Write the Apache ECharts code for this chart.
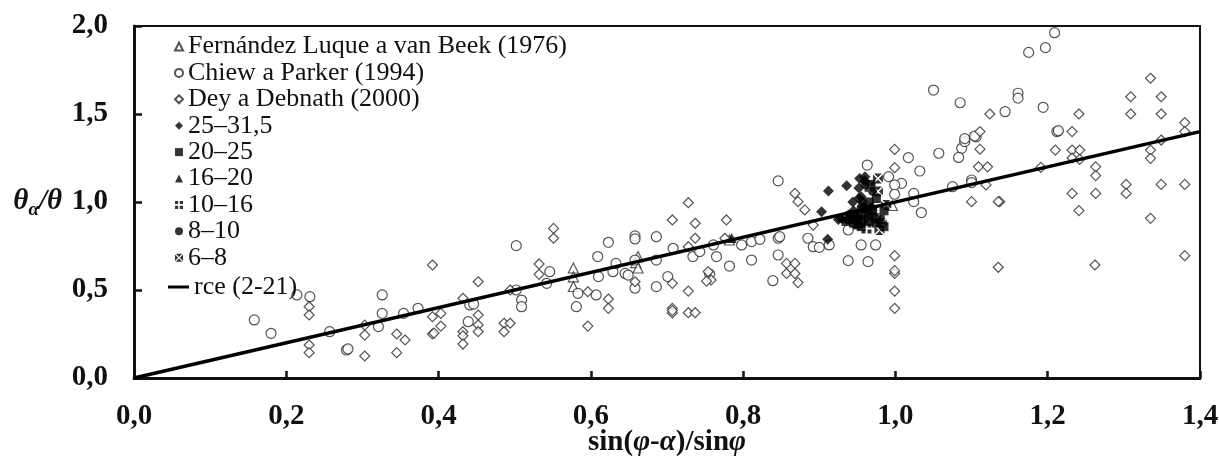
<!DOCTYPE html>
<html><head><meta charset="utf-8">
<script src="https://cdn.jsdelivr.net/npm/echarts@6/dist/echarts.min.js"></script>
<style>html,body{margin:0;padding:0;background:#fff}#c{width:1219px;height:458px}</style>
</head><body><div id="c"></div>
<script>
var seriesNames = ['Fernández Luque a van Beek (1976)','Chiew a Parker (1994)','Dey a Debnath (2000)','25–31,5','20–25','16–20','10–16','8–10','6–8','rce (2-21)'];
var xTicks = [0,0.2,0.4,0.6,0.8,1.0,1.2,1.4];
var yTicks = [0,0.5,1.0,1.5,2.0];

var fernandez = [[0.577,0.625],[0.577,0.575],[0.577,0.52],[0.662,0.69],[0.659,0.655],[0.662,0.625],[0.782,0.784],[0.996,0.98],[0.955,0.9]];
var chiew = [[0.158,0.33],[0.18,0.254],[0.214,0.472],[0.231,0.462],[0.257,0.263],[0.279,0.159],[0.281,0.165],[0.326,0.472],[0.326,0.367],[0.321,0.292],[0.354,0.367],[0.373,0.396],[0.441,0.415],[0.446,0.42],[0.439,0.32],[0.502,0.752],[0.502,0.5],[0.509,0.443],[0.509,0.405],[0.546,0.604],[0.542,0.538],[0.581,0.405],[0.583,0.481],[0.607,0.472],[0.61,0.576],[0.609,0.69],[0.623,0.771],[0.629,0.604],[0.633,0.651],[0.645,0.594],[0.649,0.585],[0.658,0.807],[0.658,0.79],[0.658,0.67],[0.658,0.51],[0.686,0.803],[0.686,0.67],[0.686,0.519],[0.701,0.576],[0.708,0.737],[0.734,0.69],[0.743,0.718],[0.761,0.756],[0.765,0.69],[0.782,0.636],[0.798,0.756],[0.811,0.775],[0.811,0.67],[0.822,0.788],[0.839,0.553],[0.846,0.794],[0.846,0.699],[0.846,1.12],[0.756,0.59],[0.848,0.803],[0.885,0.794],[0.892,0.746],[0.9,0.742],[0.913,0.756],[0.955,0.756],[0.974,0.756],[0.938,0.667],[0.964,0.661],[0.938,0.841],[0.963,1.21],[1.017,1.252],[1.057,1.277],[1.087,1.305],[1.091,1.343],[1.083,1.253],[1.106,1.37],[1.091,1.36],[1.104,1.375],[1.032,1.176],[0.991,1.144],[1.008,1.106],[0.999,1.097],[1.024,1.049],[1.024,1.002],[1.034,0.94],[1.075,1.087],[1.1,1.125],[1.1,1.11],[0.999,1.044],[1.05,1.636],[1.085,1.564],[1.144,1.513],[1.161,1.618],[1.161,1.59],[1.175,1.85],[1.197,1.877],[1.209,1.962],[1.194,1.538],[1.212,1.4],[1.214,1.405]];
var dey = [[0.23,0.405],[0.23,0.358],[0.23,0.1875],[0.23,0.144],[0.303,0.30],[0.303,0.244],[0.303,0.125],[0.345,0.25],[0.356,0.216],[0.345,0.144],[0.392,0.642],[0.392,0.348],[0.403,0.367],[0.403,0.295],[0.392,0.25],[0.394,0.255],[0.432,0.453],[0.432,0.263],[0.432,0.24],[0.432,0.193],[0.452,0.547],[0.452,0.358],[0.452,0.301],[0.452,0.263],[0.486,0.311],[0.486,0.263],[0.494,0.311],[0.494,0.5],[0.532,0.648],[0.532,0.589],[0.551,0.85],[0.551,0.794],[0.596,0.49],[0.596,0.295],[0.623,0.449],[0.623,0.396],[0.658,0.547],[0.707,0.898],[0.707,0.538],[0.707,0.396],[0.707,0.37],[0.707,0.383],[0.728,0.996],[0.737,0.879],[0.737,0.794],[0.728,0.746],[0.728,0.494],[0.728,0.371],[0.737,0.371],[0.778,0.898],[0.776,0.794],[0.754,0.604],[0.758,0.557],[0.752,0.55],[0.857,0.651],[0.868,0.651],[0.857,0.594],[0.868,0.594],[0.872,0.542],[0.868,1.049],[0.872,1.002],[0.881,0.955],[0.892,0.869],[0.999,0.594],[0.999,0.494],[0.999,0.396],[0.999,0.695],[0.999,1.299],[0.999,1.195],[1.135,0.629],[1.262,0.642],[1.38,0.695],[1.335,1.703],[1.309,1.598],[1.349,1.598],[1.241,1.5],[1.309,1.5],[1.349,1.5],[1.232,1.4],[1.21,1.295],[1.232,1.295],[1.242,1.295],[1.232,1.25],[1.242,1.242],[1.191,1.197],[1.263,1.2],[1.263,1.15],[1.335,1.295],[1.335,1.248],[1.349,1.352],[1.38,1.451],[1.38,1.4],[1.232,1.049],[1.263,1.049],[1.303,1.1],[1.303,1.049],[1.349,1.1],[1.38,1.1],[1.241,0.951],[1.335,0.907],[1.137,1.002],[1.124,1.5],[1.111,1.4],[1.111,1.3],[1.109,1.2],[1.121,1.2],[1.119,1.097],[1.1,1.002],[1.135,1.002],[0.999,0.61]];
var g25_31 = [[0.912,1.063],[0.936,1.093],[0.903,0.945],[0.911,0.788],[0.953,1.134],[0.96,1.144],[0.952,1.021],[0.955,1.03],[0.929,0.907],[0.925,0.9],[0.945,0.95],[0.96,1.12],[0.957,1.0],[0.948,0.91],[0.952,1.08],[0.944,1.0],[0.958,0.97]];
var g20_25 = [[0.94,0.9],[0.945,0.88],[0.95,0.92],[0.955,0.9],[0.96,0.93],[0.965,0.89],[0.97,0.92],[0.975,0.88],[0.935,0.89],[0.955,0.86],[0.98,0.9],[0.985,0.86],[0.96,0.96],[0.965,1.0],[0.95,0.87],[0.97,0.95],[0.975,1.02],[0.968,1.1],[0.985,0.95],[0.94,0.92]];
var g16_20 = [[0.785,0.795],[0.95,0.93],[0.93,0.91],[0.97,0.98]];
var g10_16 = [[0.966,1.087],[0.964,0.964],[0.951,0.879],[0.962,0.85],[0.966,0.907]];
var g8_10 = [[0.96,1.1],[0.955,0.97],[0.94,0.93],[0.97,1.06]];
var g6_8 = [[0.977,1.134],[0.977,1.059],[0.988,0.983],[0.975,0.907],[0.982,0.879],[0.979,0.841]];
var fitLine = [[0,0],[1.4,1.4]];

var FONT = 'Liberation Serif';
var P_DOTS = 'path://M0,0h4v4h-4z M6,0h4v4h-4z M0,6h4v4h-4z M6,6h4v4h-4z';
var P_XBOX = 'path://M1,0L9,0L5,4Z M10,1L10,9L6,5Z M9,10L1,10L5,6Z M0,9L0,1L4,5Z';

function openSeries(name, data, symbol, size) {
  return {name:name, type:'scatter', data:data, symbol:symbol, symbolSize:size,
    itemStyle:{color:'#fff', borderColor:'#2a2a2a', borderWidth:1.2}, z:2};
}
function filledSeries(name, data, symbol, size) {
  return {name:name, type:'scatter', data:data, symbol:symbol, symbolSize:size,
    itemStyle:{color:'#000', borderColor:'#000', borderWidth:0}, z:3};
}
function fmt(v){ return v.toFixed(1).replace('.', ','); }

var legendText = {fontFamily:FONT, fontSize:26, color:'#111', lineHeight:26};

var chart = echarts.init(document.getElementById('c'), null, {renderer:'canvas'});
chart.setOption({
  backgroundColor:'#fff',
  animation:false,
  grid:{left:134, right:19, top:26, bottom:80, show:true, borderColor:'#111', borderWidth:2,
    containLabel:false, outerBoundsMode:'none'},
  legend:[{
    orient:'vertical', left:169, top:28.5, itemWidth:8, itemHeight:8, itemGap:0.4,
    data:seriesNames.slice(0,9),
    textStyle:Object.assign({padding:[0,0,0,0]}, legendText),
    inactiveColor:'#111'
  },{
    orient:'vertical', left:163, top:269, itemWidth:21, itemHeight:3, itemGap:0.5,
    data:[{name:seriesNames[9], icon:'rect'}],
    itemStyle:{color:'#000'},
    textStyle:Object.assign({padding:[0,0,0,0]}, legendText),
    inactiveColor:'#111'
  }],
  xAxis:{
    type:'value', min:xTicks[0], max:xTicks[xTicks.length-1], interval:0.2,
    name:'{n|sin(}{i|φ}{n|-}{i|α}{n|)/sin}{i|φ}', nameLocation:'middle', nameGap:50,
    nameMoveOverlap:false,
    nameTextStyle:{rich:{
      n:{fontFamily:FONT, fontSize:29, fontWeight:'bold', color:'#111'},
      i:{fontFamily:FONT, fontSize:29, fontWeight:'bold', fontStyle:'italic', color:'#111'}
    }},
    axisLine:{lineStyle:{color:'#111', width:3}},
    axisTick:{inside:true, length:7, lineStyle:{color:'#111', width:2.5}},
    axisLabel:{formatter:fmt, margin:24, fontFamily:FONT, fontSize:29, fontWeight:'bold', color:'#111'},
    splitLine:{show:false}
  },
  yAxis:{
    type:'value', min:yTicks[0], max:yTicks[yTicks.length-1], interval:0.5,
    name:'{i|θ}{s|α}{i|/θ}', nameLocation:'middle', nameRotate:0, nameGap:72,
    nameMoveOverlap:false,
    nameTextStyle:{align:'right', rich:{
      i:{fontFamily:FONT, fontSize:29, fontWeight:'bold', fontStyle:'italic', color:'#111'},
      s:{fontFamily:FONT, fontSize:19, fontWeight:'bold', fontStyle:'italic', color:'#111', padding:[16,0,0,0]}
    }},
    axisLine:{lineStyle:{color:'#111', width:3}},
    axisTick:{inside:true, length:8, lineStyle:{color:'#111', width:2.5}},
    axisLabel:{formatter:fmt, margin:26, fontFamily:FONT, fontSize:29, fontWeight:'bold', color:'#111'},
    splitLine:{show:false}
  },
  series:[
    openSeries(seriesNames[0], fernandez, 'triangle', 10),
    openSeries(seriesNames[1], chiew, 'circle', 10),
    openSeries(seriesNames[2], dey, 'diamond', 10),
    filledSeries(seriesNames[3], g25_31, 'diamond', 11),
    filledSeries(seriesNames[4], g20_25, 'rect', 9),
    filledSeries(seriesNames[5], g16_20, 'triangle', 10),
    filledSeries(seriesNames[6], g10_16, P_DOTS, 10),
    filledSeries(seriesNames[7], g8_10, 'circle', 9),
    filledSeries(seriesNames[8], g6_8, P_XBOX, 10),
    {name:seriesNames[9], type:'line', data:fitLine, symbol:'none', showSymbol:false,
      lineStyle:{color:'#000', width:3.5}, itemStyle:{color:'#000'}, z:5}
  ]
});
</script></body></html>
